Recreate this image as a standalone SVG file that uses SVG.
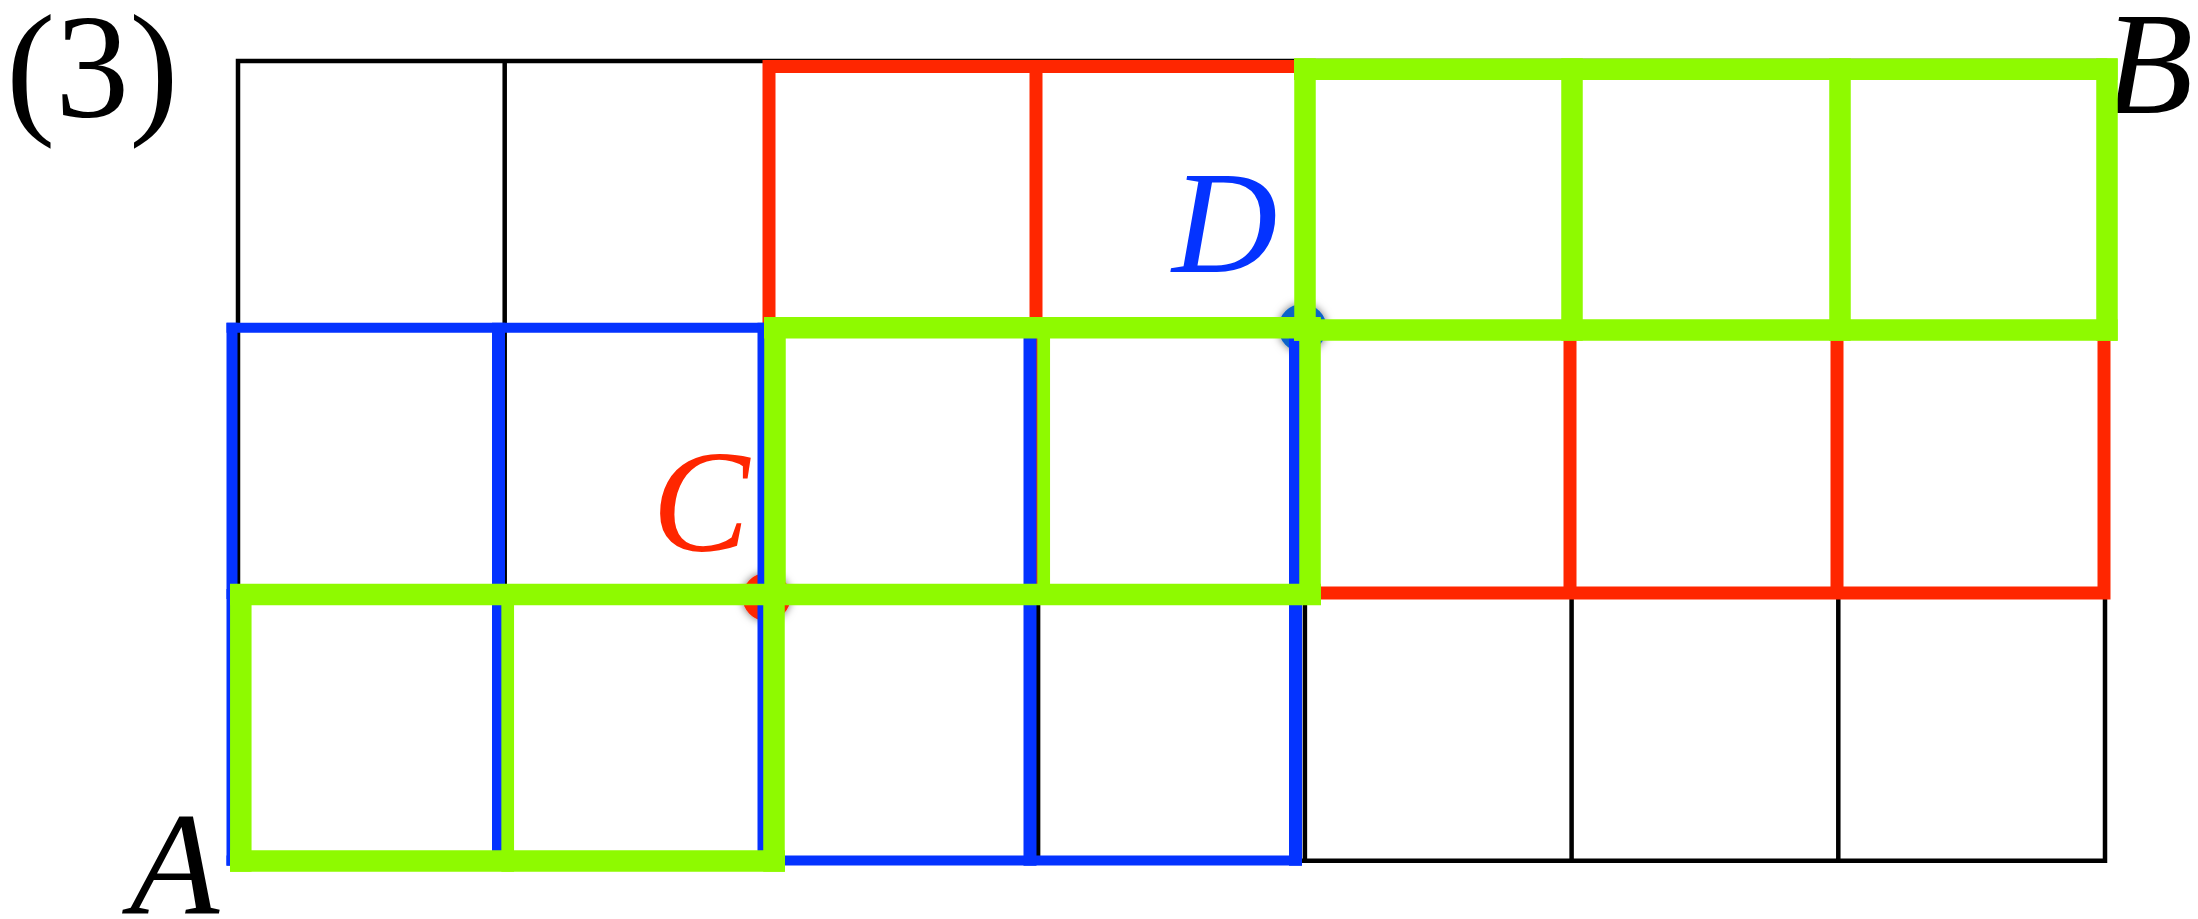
<svg xmlns="http://www.w3.org/2000/svg" width="2198" height="919" viewBox="0 0 2198 919">
<style>
.blk{stroke:#000;stroke-width:4.5;fill:none}
.red{stroke:#FF2600;stroke-width:13;fill:none}
.blu{stroke:#0433FF;fill:none}
.grn{stroke:#8EFA00;fill:none}
.lbl{font-family:"Liberation Serif","Times New Roman",serif;font-size:146px;font-style:italic}
.num{font-family:"Liberation Serif","Times New Roman",serif;font-size:148px}
</style>
<defs>
<filter id="sh" x="-60%" y="-60%" width="220%" height="220%">
<feDropShadow dx="0" dy="0" stdDeviation="4" flood-color="#000" flood-opacity="0.55"/>
</filter>
</defs>
<rect width="2198" height="919" fill="#fff"/>
<g id="grid">
<path class="blk" d="M238 61H2105M238 327.6H2105M238 594.2H2105M238 860.8H2105M238 58.8V863M504.7 58.8V863M771.4 58.8V863M1038.1 58.8V863M1304.9 58.8V863M1571.6 58.8V863M1838.3 58.8V863M2105 58.8V863"/>
</g>
<g id="points">
<circle id="pointC" cx="766.5" cy="597" r="24" fill="#FF2600" filter="url(#sh)"/>
<circle id="pointD" cx="1302.5" cy="328" r="24" fill="#0A64C8" filter="url(#sh)"/>
</g>
<g id="red-region">
<path class="red" d="M762.5 66.5H2110.5M762.5 327H2110.5M762.5 593H2110.5M769 60V599.5M1036 60V599.5M1303 60V599.5M1570 60V599.5M1837 60V599.5M2104 60V599.5"/>
</g>
<g id="blue-region">
<path class="blu" stroke-width="10" d="M226.5 327.7H1301.8M226.5 594H1301.8M226.5 860.4H1301.8"/>
<path class="blu" stroke-width="11" d="M232 322.7V865.7"/>
<path class="blu" stroke-width="13" d="M498.5 322.7V865.7M764 322.7V865.7M1030 322.7V865.7M1295.5 322.7V865.7"/>
</g>
<g id="labels">
<text id="label-3" class="num" x="6" y="116.5">(3)</text>
<text id="label-A" class="lbl" x="130" y="913">A</text>
<text id="label-B" class="lbl" x="2104" y="113">B</text>
<text id="label-C" class="lbl" x="652" y="551" fill="#FF2600">C</text>
<text id="label-D" class="lbl" x="1172" y="271.5" fill="#0433FF">D</text>
</g>
<g id="green-path">
<path class="grn" stroke-width="21.5" d="M230 594.5H1321M230 861H785M764 327.8H1320.7M1294 69.2H2117.6M1294 330H2117.6"/>
<path class="grn" stroke-width="21.5" d="M240.8 584V871.7M774 584V871.7M775 317.3V605M1310 317.3V605M1305 58.3V340.7M1572 58.3V340.7M1840 58.3V340.7M2107 58.3V340.7"/>
<path class="grn" stroke-width="12.7" d="M507.7 584V871.7M1043.7 317.3V605"/>
</g>
</svg>
